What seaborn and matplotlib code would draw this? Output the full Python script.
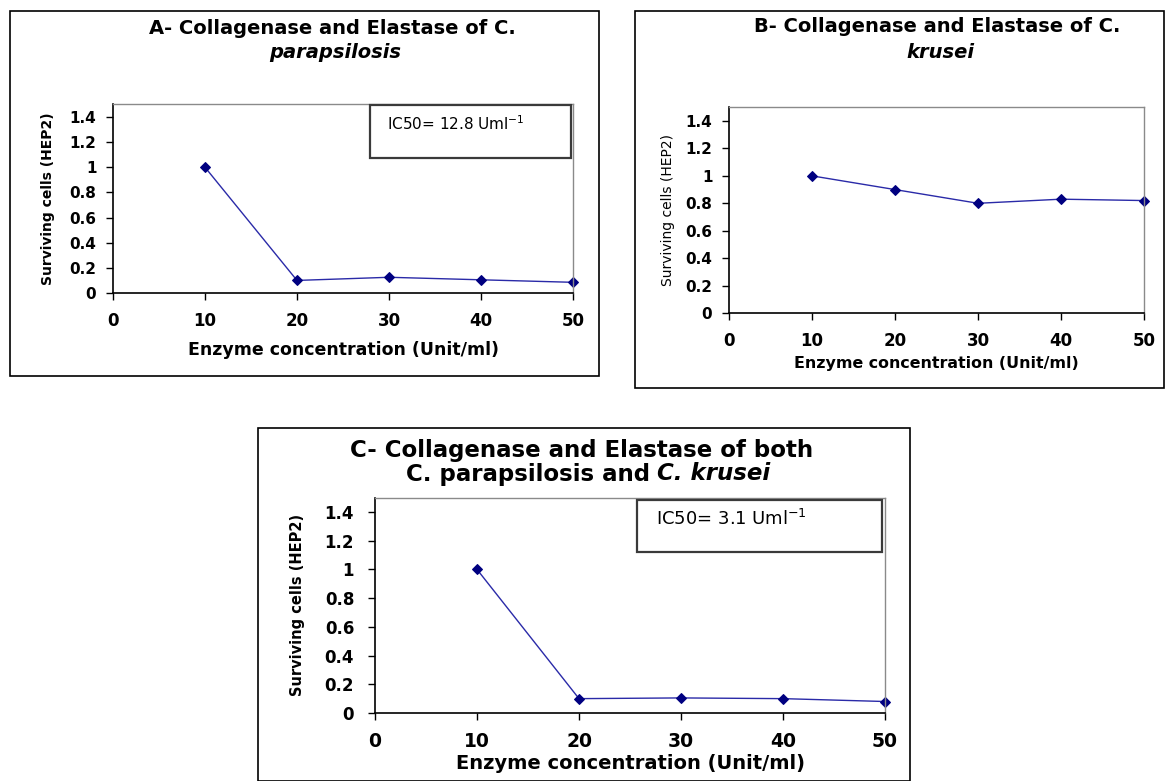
import numpy as np
import pandas as pd
import seaborn as sns
import matplotlib
matplotlib.use("Agg")
import matplotlib.pyplot as plt
from matplotlib.patches import Rectangle

# ---- data ----
concentration = [10, 20, 30, 40, 50]
surv_parapsilosis = [1.0, 0.10, 0.125, 0.105, 0.085]
surv_krusei = [1.0, 0.90, 0.80, 0.83, 0.82]
surv_both = [1.0, 0.10, 0.105, 0.10, 0.08]
x_ticks = [0, 10, 20, 30, 40, 50]
y_ticks = [0, 0.2, 0.4, 0.6, 0.8, 1, 1.2, 1.4]
y_ticklabels = ["0", "0.2", "0.4", "0.6", "0.8", "1", "1.2", "1.4"]
ic50_a = "IC50= 12.8 Uml$^{-1}$"
ic50_c = "IC50= 3.1 Uml$^{-1}$"

sns.set_theme(style="white")
plt.rcParams['font.family'] = ['DejaVu Sans']
plt.rcParams['mathtext.default'] = 'regular'
for k in ['text.color', 'axes.labelcolor', 'xtick.color', 'ytick.color']:
    plt.rcParams[k] = 'black'

W, H = 1165, 781
fig = plt.figure(figsize=(W / 100, H / 100), dpi=100)
fig.patch.set_facecolor("white")


def rect(x0, y0, x1, y1):
    return [x0 / W, 1 - y1 / H, (x1 - x0) / W, (y1 - y0) / H]


def fx(x):
    return x / W


def fy(y):
    return 1 - y / H


def box(x0, y0, x1, y1, lw=1.0, ec="black", z=0, fill=False):
    r = Rectangle((fx(x0), fy(y1)), (x1 - x0) / W, (y1 - y0) / H,
                  transform=fig.transFigure, fill=fill, fc="white",
                  ec=ec, lw=lw, zorder=z)
    fig.add_artist(r)


def panel(axrect, yvals, xtick_fs, ytick_fs, ylab_weight, ylab_fs, xlab_fs, ypad=7):
    ax = fig.add_axes(rect(*axrect))
    df = pd.DataFrame({"conc": concentration, "surv": yvals})
    sns.lineplot(data=df, x="conc", y="surv", ax=ax, color="#2a2aa8", lw=1.0,
                 marker="D", markersize=5.5, markerfacecolor="#000080",
                 markeredgecolor="#000080", clip_on=False)
    ax.set_xlim(0, 50)
    ax.set_ylim(0, 1.5)
    ax.set_xticks(x_ticks)
    ax.set_xticklabels([str(t) for t in x_ticks], fontsize=xtick_fs, fontweight="bold")
    ax.set_yticks(y_ticks)
    ax.set_yticklabels(y_ticklabels, fontsize=ytick_fs, fontweight="bold")
    ax.tick_params(axis="both", which="major", direction="out", length=5, width=1,
                   color="black", bottom=True, left=True)
    ax.tick_params(axis="y", pad=ypad)
    ax.tick_params(axis="x", pad=9)
    for s in ["left", "bottom"]:
        ax.spines[s].set_color("black")
        ax.spines[s].set_linewidth(1.2)
    for s in ["top", "right"]:
        ax.spines[s].set_color("#8a8a8a")
        ax.spines[s].set_linewidth(1.0)
    ax.set_xlabel("Enzyme concentration (Unit/ml)", fontsize=xlab_fs, fontweight="bold")
    ax.set_ylabel("Surviving cells (HEP2)", fontsize=ylab_fs, fontweight=ylab_weight)
    ax.set_facecolor("white")
    return ax


# panel frames
box(9.5, 10.5, 599, 376, lw=1.2, z=-1)
box(635, 10.5, 1164, 388, lw=1.2, z=-1)
box(258, 428, 910, 780.5, lw=1.2, z=-1)

# ---- Panel A ----
axA = panel((113, 104.4, 573, 293), surv_parapsilosis, 12, 11, "bold", 10, 12.5)
axA.xaxis.set_label_coords(0.5, -0.255)
axA.yaxis.set_label_coords(-0.126, 0.5)
fig.text(fx(332), fy(28), "A- Collagenase and Elastase of C.", ha="center", va="center",
         fontsize=14, fontweight="bold")
fig.text(fx(335), fy(52), "parapsilosis", ha="center", va="center",
         fontsize=14, fontweight="bold", style="italic")

# ---- Panel B ----
axB = panel((729, 107.3, 1144, 313), surv_krusei, 12, 11, "normal", 10, 11.4)
axB.xaxis.set_label_coords(0.5, -0.209)
axB.yaxis.set_label_coords(-0.13, 0.5)
fig.text(fx(937), fy(27), "B- Collagenase and Elastase of C.", ha="center", va="center",
         fontsize=14, fontweight="bold")
fig.text(fx(940), fy(52), "krusei", ha="center", va="center",
         fontsize=14, fontweight="bold", style="italic")

# ---- Panel C ----
axC = panel((375, 497.6, 885, 713), surv_both, 13.5, 12, "bold", 10.5, 14, ypad=10)
axC.xaxis.set_label_coords(0.5, -0.19)
axC.yaxis.set_label_coords(-0.137, 0.5)
fig.text(fx(582), fy(451), "C- Collagenase and Elastase of both", ha="center", va="center",
         fontsize=16.5, fontweight="bold")
fig.text(fx(650), fy(474), "C. parapsilosis and", ha="right", va="center",
         fontsize=16.5, fontweight="bold")
fig.text(fx(657), fy(474), "C. krusei", ha="left", va="center",
         fontsize=16.5, fontweight="bold", style="italic")

# IC50 boxes
box(370, 105, 571, 158, lw=1.6, ec="#3a3a3a", z=5, fill=True)
fig.text(fx(387), fy(124), ic50_a, ha="left", va="center", fontsize=11, zorder=6)
box(637, 500, 882, 552, lw=1.6, ec="#3a3a3a", z=5, fill=True)
fig.text(fx(656), fy(519), ic50_c, ha="left", va="center", fontsize=13, zorder=6)

fig.savefig("out.png", dpi=100, facecolor="white")
